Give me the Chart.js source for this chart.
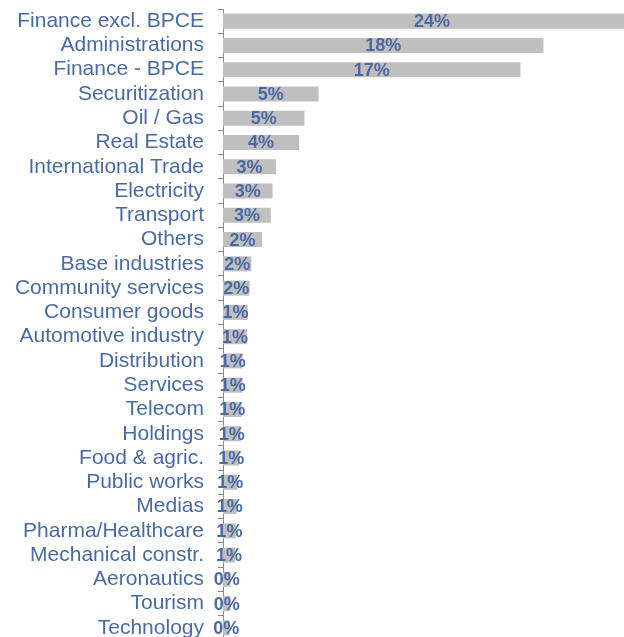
<!DOCTYPE html>
<html lang="en">
<head>
    <meta charset="UTF-8">
    <title>Exposure by sector</title>
    <script src="https://cdn.jsdelivr.net/npm/chart.js"></script>
    <style>
        html, body { margin: 0; padding: 0; background: #fff; overflow: hidden; }
        canvas { display: block; }
    </style>
</head>
<body>
    <canvas id="sectorChart" width="624" height="640"></canvas>
    <script>
        // Secteurs (ordre du graphique, du plus gros au plus petit)
        const categories = [
            'Finance excl. BPCE', 'Administrations', 'Finance - BPCE', 'Securitization',
            'Oil / Gas', 'Real Estate', 'International Trade', 'Electricity', 'Transport',
            'Others', 'Base industries', 'Community services', 'Consumer goods',
            'Automotive industry', 'Distribution', 'Services', 'Telecom', 'Holdings',
            'Food & agric.', 'Public works', 'Medias', 'Pharma/Healthcare',
            'Mechanical constr.', 'Aeronautics', 'Tourism', 'Technology'
        ];

        // Part de chaque secteur, en %
        const shares = [
            23.6, 18.1, 16.8, 5.4,
            4.6, 4.3, 3.0, 2.8, 2.7,
            2.2, 1.6, 1.5, 1.4,
            1.35, 1.1, 1.1, 1.05, 1.0,
            0.92, 0.81, 0.77, 0.72,
            0.68, 0.43, 0.43, 0.38
        ];

        const textBlue = '#4a6aa3';

        // Etiquettes de valeur au centre des barres
        const valueLabels = {
            id: 'valueLabels',
            afterDatasetsDraw(chart) {
                const ctx = chart.ctx;
                const meta = chart.getDatasetMeta(0);
                ctx.save();
                ctx.font = 'bold 18px "Liberation Sans", Arial, sans-serif';
                ctx.fillStyle = textBlue;
                ctx.textAlign = 'center';
                ctx.textBaseline = 'middle';
                meta.data.forEach((bar, i) => {
                    const cx = (bar.base + bar.x) / 2;
                    ctx.fillText(Math.round(shares[i]) + '%', cx, bar.y + 1);
                });
                ctx.restore();
            }
        };

        const ctx = document.getElementById('sectorChart').getContext('2d');
        new Chart(ctx, {
            type: 'bar',
            data: {
                labels: categories,
                datasets: [{
                    data: shares,
                    backgroundColor: '#bfbfbf',
                    borderWidth: 0,
                    barPercentage: 0.62,
                    categoryPercentage: 1
                }]
            },
            options: {
                indexAxis: 'y',
                responsive: false,
                animation: false,
                layout: { padding: { top: 9, right: 0, bottom: 0, left: 0 } },
                plugins: {
                    legend: { display: false },
                    tooltip: { enabled: false }
                },
                scales: {
                    x: {
                        display: false,
                        min: 0,
                        max: 22.65
                    },
                    y: {
                        afterFit(scale) {
                            scale.width = 223;
                            scale.paddingTop = 0;
                            scale.paddingBottom = 0;
                        },
                        border: { display: true, color: '#8a8a8a', width: 1 },
                        grid: {
                            drawOnChartArea: false,
                            drawTicks: true,
                            tickLength: 5,
                            color: '#8a8a8a',
                            offset: true
                        },
                        ticks: {
                            autoSkip: false,
                            padding: 14,
                            color: textBlue,
                            font: { family: '"Liberation Sans", Arial, sans-serif', size: 21 }
                        }
                    }
                }
            },
            plugins: [valueLabels]
        });
    </script>
</body>
</html>
